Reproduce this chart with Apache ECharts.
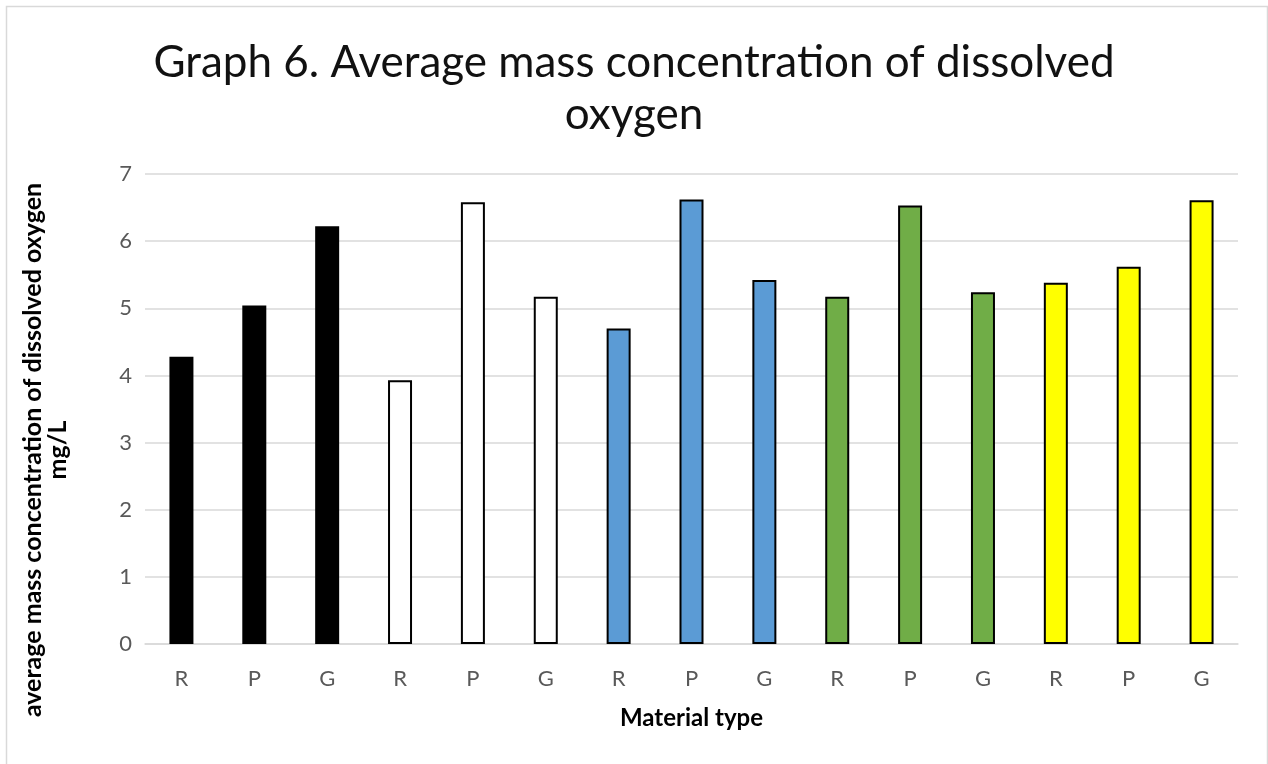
<!DOCTYPE html>
<html>
<head>
<meta charset="utf-8">
<script src="https://cdn.jsdelivr.net/npm/echarts@6/dist/echarts.min.js"></script>
<style>
  html, body { margin: 0; padding: 0; background: #fff; }
  #chart { width: 1268px; height: 764px; }
</style>
</head>
<body>
<div id="chart"></div>
<script>
// material type per bar (5 groups of R / P / G)
var categories = ['R', 'P', 'G', 'R', 'P', 'G', 'R', 'P', 'G', 'R', 'P', 'G', 'R', 'P', 'G']
var oxygen = [4.28, 5.04, 6.22, 3.93, 6.58, 5.17, 4.70, 6.62, 5.42, 5.17, 6.53, 5.24, 5.38, 5.62, 6.61]
var groupColors = ['#000000', '#ffffff', '#5b9bd5', '#70ad47', '#ffff00']

var font = 'Lato, "Noto Sans", sans-serif'
var chart = echarts.init(document.getElementById('chart'))

var barData = oxygen.map(function(v, i) {
  return {
    value: v,
    itemStyle: { color: groupColors[Math.floor(i / 3)] }
  }
})

chart.setOption({
  animation: false,
  backgroundColor: '#fff',
  title: {
    text: 'Graph 6. Average mass concentration of dissolved\noxygen',
    left: 'center',
    top: 32,
    textStyle: {
      fontFamily: font,
      fontWeight: 'normal',
      fontSize: 44,
      lineHeight: 52,
      color: '#111'
    }
  },
  grid: {
    left: 145,
    right: 30,
    top: 174,
    bottom: 120
  },
  xAxis: {
    type: 'category',
    data: categories,
    axisLine: { lineStyle: { color: '#d9d9d9', width: 1.5 } },
    axisTick: { show: false },
    axisLabel: { color: '#595959', fontSize: 22, fontFamily: font, margin: 24 },
    name: 'Material type',
    nameLocation: 'middle',
    nameGap: 62,
    nameTextStyle: { color: '#000', fontSize: 24, fontWeight: 'bold', fontFamily: font }
  },
  yAxis: {
    type: 'value',
    min: 0,
    max: 7,
    interval: 1,
    axisLine: { show: false },
    axisTick: { show: false },
    axisLabel: { color: '#595959', fontSize: 22, fontFamily: font, margin: 13 },
    splitLine: { lineStyle: { color: '#d9d9d9', width: 1.5 } }
  },
  graphic: [
    {
      type: 'rect',
      left: 4,
      top: 4,
      shape: { width: 1261, height: 780 },
      style: { fill: 'none', stroke: '#d9d9d9', lineWidth: 1.5 },
      silent: true
    },
    {
      type: 'text',
      x: 45,
      y: 450,
      rotation: Math.PI / 2,
      style: {
        text: 'average mass concentration of dissolved oxygen\nmg/L',
        fontFamily: font,
        fontSize: 25,
        fontWeight: 'bold',
        lineHeight: 25,
        fill: '#000',
        align: 'center',
        verticalAlign: 'middle'
      }
    }
  ],
  series: [{
    type: 'bar',
    data: barData,
    barWidth: 24,
    itemStyle: { borderColor: '#000', borderWidth: 2 }
  }]
})
</script>
</body>
</html>
